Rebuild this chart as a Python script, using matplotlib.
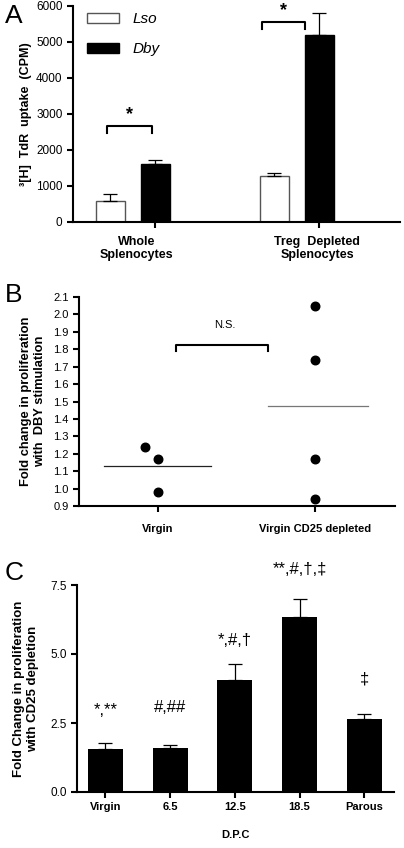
import matplotlib
matplotlib.use('Agg')
import matplotlib.pyplot as plt
from matplotlib.patches import Patch

plt.rcParams['font.family'] = ['Liberation Sans', 'DejaVu Sans']
plt.rcParams['font.size'] = 8

# ---- data panel A ----
a_groups = ['Whole\nSplenocytes', 'Treg  Depleted\nSplenocytes']
a_lso = [575, 1270]
a_lso_err = [205, 100]
a_dby = [1610, 5195]
a_dby_err = [105, 620]

# ---- data panel B ----
b_groups = ['Virgin', 'Virgin CD25 depleted']
b_virgin = [1.24, 1.17, 0.98]
b_virgin_x = [0.92, 1.0, 1.0]
b_cd25 = [2.05, 1.74, 1.17, 0.94]
b_means = [1.13, 1.475]

# ---- data panel C ----
c_groups = ['Virgin', '6.5', '12.5', '18.5', 'Parous']
c_vals = [1.57, 1.60, 4.05, 6.34, 2.66]
c_err = [0.22, 0.11, 0.57, 0.66, 0.17]
c_marks = ['*,**', '#,##', '*,#,\u2020', '**,#,\u2020,\u2021', '\u2021']
c_mark_y = [2.96, 3.05, 5.50, 8.07, 4.11]

W, H = 404, 848
fig = plt.figure(figsize=(W / 100, H / 100), dpi=100)


def axes_px(left, top, right, bottom):
    return fig.add_axes([left / W, 1 - bottom / H, (right - left) / W, (bottom - top) / H])


def style(ax):
    for s in ['top', 'right']:
        ax.spines[s].set_visible(False)
    for s in ['left', 'bottom']:
        ax.spines[s].set_linewidth(1.5)
    ax.tick_params(width=1.5, length=4, labelsize=8.5)


# ================= A =================
ax = axes_px(73, 6, 400, 222)
style(ax)
grp = [0.0, 3.64]
lso_x = [g for g in grp]
dby_x = [g + 1 for g in grp]
ekw = dict(ecolor='black', elinewidth=0.9, capsize=5, capthick=0.9)
ax.bar(lso_x, a_lso, width=0.65, color='white', edgecolor='#555555', linewidth=1)
ax.errorbar(lso_x, a_lso, yerr=[[0, 0], a_lso_err], fmt='none', **ekw)
ax.bar(dby_x, a_dby, width=0.65, color='black', edgecolor='black')
ax.errorbar(dby_x, a_dby, yerr=[[0, 0], a_dby_err], fmt='none', **ekw)
ax.set_xlim(-0.83, 6.43)
ax.set_ylim(0, 6000)
ax.set_yticks([0, 1000, 2000, 3000, 4000, 5000, 6000])
ax.set_xticks(dby_x)
ax.set_xticklabels(['', ''])
ax.set_ylabel('\u00b3[H]  TdR  uptake  (CPM)', fontweight='bold', fontsize=9, labelpad=3)
for xp, lab in zip([0.59, 4.59], a_groups):
    ax.text(xp, -740, lab, ha='center', va='center', fontweight='bold', fontsize=9,
            linespacing=1.15)
# significance brackets
for x0, x1, yt, ys in [(-0.08, 0.92, 2657, 2980), (3.37, 4.32, 5546, 5880)]:
    ax.plot([x0, x0, x1, x1], [yt - 185, yt, yt, yt - 185], color='black', lw=1.5)
    ax.text((x0 + x1) / 2, ys, '*', ha='center', va='center', fontsize=13,
            fontweight='bold', clip_on=False)
leg = ax.legend(handles=[Patch(facecolor='white', edgecolor='#555555', label='Lso'),
                         Patch(facecolor='black', edgecolor='black', label='Dby')],
                loc='upper left', bbox_to_anchor=(0.0, 1.035), frameon=False,
                prop={'style': 'italic', 'size': 11}, handlelength=2.1, handleheight=0.65,
                labelspacing=1.05, handletextpad=0.9)
fig.text(5 / W, 1 - 16 / H, 'A', fontsize=19, va='center', ha='left')

# ================= B =================
ax = axes_px(79, 297, 395, 506)
style(ax)
ax.scatter(b_virgin_x, b_virgin, s=38, color='black', zorder=3)
ax.scatter([2.0] * len(b_cd25), b_cd25, s=38, color='black', zorder=3)
ax.plot([0.66, 1.34], [b_means[0]] * 2, color='#222222', lw=0.9)
ax.plot([1.70, 2.34], [b_means[1]] * 2, color='#777777', lw=0.9)
ax.plot([1.12, 1.12, 1.70, 1.70], [1.79, 1.826, 1.826, 1.79], color='black', lw=1.5)
ax.text(1.43, 1.94, 'N.S.', ha='center', va='center', fontsize=8)
ax.set_xlim(0.5, 2.51)
ax.set_ylim(0.9, 2.1)
ax.set_yticks([0.9 + 0.1 * i for i in range(13)])
ax.set_yticklabels(['%.1f' % (0.9 + 0.1 * i) for i in range(13)], fontsize=8)
ax.set_xticks([1, 2])
ax.set_xticklabels(b_groups, fontweight='bold', fontsize=8)
ax.tick_params(axis='x', pad=9)
ax.set_ylabel('Fold change in proliferation\nwith  DBY stimulation', fontweight='bold',
              fontsize=9.3, labelpad=5)
fig.text(5 / W, 1 - 295 / H, 'B', fontsize=19, va='center', ha='left')

# ================= C =================
ax = axes_px(77, 585, 394, 792)
style(ax)
cx = list(range(len(c_groups)))
ax.bar(cx, c_vals, width=0.54, color='black')
ax.errorbar(cx, c_vals, yerr=[[0] * 5, c_err], fmt='none', **ekw)
for x, m, y in zip(cx, c_marks, c_mark_y):
    ax.text(x, y, m, ha='center', va='center', fontsize=12, clip_on=False)
ax.set_xlim(-0.44, 4.46)
ax.set_ylim(0, 7.5)
ax.set_yticks([0, 2.5, 5.0, 7.5])
ax.set_yticklabels(['0.0', '2.5', '5.0', '7.5'])
ax.set_xticks(cx)
ax.set_xticklabels(c_groups, fontweight='bold', fontsize=8)
ax.set_xlabel('D.P.C', fontweight='bold', fontsize=8, labelpad=13)
ax.set_ylabel('Fold Change in proliferation\nwith CD25 depletion', fontweight='bold',
              fontsize=9.5, labelpad=8)
fig.text(5 / W, 1 - 573 / H, 'C', fontsize=19, va='center', ha='left')

fig.savefig('out.png', dpi=100)
